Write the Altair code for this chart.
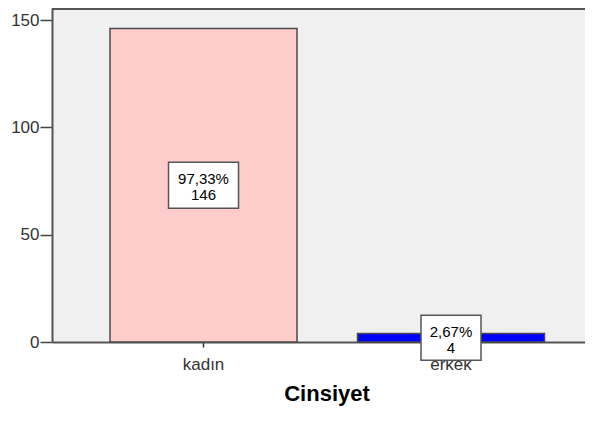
import altair as alt
import pandas as pd

categories = ["kadın", "erkek"]
counts = [146, 4]
bar_colors = ["#ffcccc", "#0000ff"]

total = sum(counts)
labels = [
    (f"{c / total * 100:.2f}%".replace(".", ",")) + "\n" + str(c) for c in counts
]
df = pd.DataFrame({"cat": categories, "n": counts, "lab": labels})
df["mid"] = df["n"] / 2

FONT = "Liberation Sans"
W, H = 533, 334
YMAX = 155.6

xscale = alt.Scale(domain=categories, paddingInner=0.2444, paddingOuter=0.199, align=0.589)
yscale = alt.Scale(domain=[0, YMAX], nice=False, zero=True)

base = alt.Chart(df)

bars = base.mark_bar(stroke="#4a4a4a", strokeWidth=1.5).encode(
    x=alt.X(
        "cat:N",
        scale=xscale,
        sort=categories,
        axis=alt.Axis(
            title="Cinsiyet",
            labelAngle=0,
            labelFont=FONT,
            labelFontSize=17,
            labelColor="#333333",
            labelPadding=9,
            tickSize=5,
            tickColor="#333333",
            tickWidth=1.5,
            domainColor="#555555",
            domainWidth=2,
            titleFont=FONT,
            titleFontSize=22,
            titleFontWeight="bold",
            titleColor="#000000",
            titlePadding=11,
            titleX=274.5,
        ),
    ),
    y=alt.Y(
        "n:Q",
        scale=yscale,
        axis=alt.Axis(
            title=None,
            values=[0, 50, 100, 150],
            labelFont=FONT,
            labelFontSize=17,
            labelColor="#333333",
            labelPadding=1,
            tickSize=12,
            tickColor="#444444",
            tickWidth=1.5,
            domainColor="#555555",
            domainWidth=2,
            grid=False,
        ),
    ),
    color=alt.Color("cat:N", scale=alt.Scale(domain=categories, range=bar_colors), legend=None),
)

path_k = "M-1,-0.657H1V0.657H-1Z"
path_e = "M-1,-0.75H1V0.75H-1Z"

boxes = base.mark_point(filled=True, fill="white", stroke="#555555", strokeWidth=1.5, opacity=1).encode(
    x=alt.X("cat:N", scale=xscale, sort=categories),
    y=alt.Y("mid:Q", scale=yscale),
    shape=alt.Shape("cat:N", scale=alt.Scale(domain=categories, range=[path_k, path_e]), legend=None),
    size=alt.Size("cat:N", scale=alt.Scale(domain=categories, range=[4900, 3600]), legend=None),
)

texts = base.mark_text(
    font=FONT, fontSize=15, color="black", lineBreak="\n", lineHeight=16, baseline="middle", dy=-6
).encode(
    x=alt.X("cat:N", scale=xscale, sort=categories),
    y=alt.Y("mid:Q", scale=yscale),
    text="lab:N",
)

top_rule = alt.Chart(pd.DataFrame({"a": [0]})).mark_rule(color="#555555", strokeWidth=2).encode(
    x=alt.value(0), x2=alt.value(W), y=alt.value(1)
)

chart = (
    alt.layer(bars, top_rule, boxes, texts)
    .properties(
        width=W,
        height=H,
        autosize=alt.AutoSizeParams(type="none"),
        padding={"left": 44, "top": 0, "right": 0, "bottom": 64},
    )
    .configure_view(fill="#f0f0f0", stroke=None)
)

chart.save("out.html", embed_options={"renderer": "svg", "actions": False})
